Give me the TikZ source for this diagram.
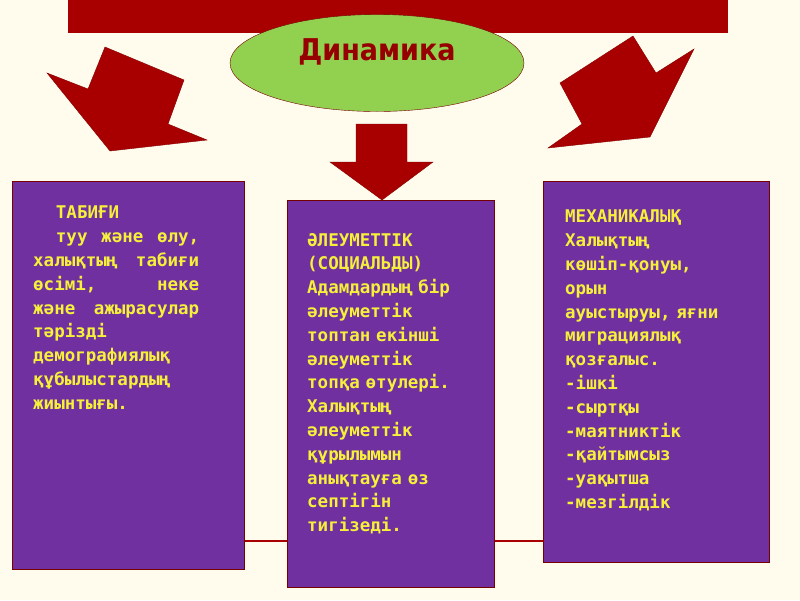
\documentclass[tikz,border=0pt]{standalone}
\usepackage{fontspec}
\usetikzlibrary{shapes.geometric}
\setmainfont{DejaVu Sans Mono}
\newfontfamily\titlefont{DejaVu Sans Condensed}
\definecolor{bgc}{HTML}{FFFCEE}
\definecolor{dred}{HTML}{A80000}
\definecolor{purp}{HTML}{7030A0}
\definecolor{yel}{HTML}{F5F03A}
\definecolor{grn}{HTML}{92D050}
\tikzset{box/.style={fill=purp,draw=dred!70!black,line width=1pt},
 arr/.style={fill=dred,draw=dred!80!black},
 txt/.style={text=yel,font=\bfseries\fontsize{17.5}{23.8}\selectfont,anchor=north west,inner sep=0pt}}
\begin{document}
\begin{tikzpicture}[x=1pt,y=-1pt]
\fill[bgc] (0,0) rectangle (800,600);
\useasboundingbox (0,0) rectangle (800,600);
\fill[dred] (68,0) rectangle (728,33);
\node[draw=dred!70!black,fill=grn,ellipse,minimum width=294pt,minimum height=97pt,inner sep=0pt] (dyn) at (377,63) {};
\node[text=dred!90!black,font=\titlefont\bfseries\fontsize{30}{34}\selectfont] at (377,52) {Динамика};
\draw[arr] (105,47)--(184,80)--(168,124)--(207,140)--(110,151)--(47,73)--(88,89)--cycle;
\draw[arr] (633,36)--(656,73)--(694,49)--(650,137)--(548,148)--(582,124)--(560,83)--cycle;
\draw[arr] (356,124)--(407,124)--(407,162)--(433,162)--(382,200)--(330,162)--(356,162)--cycle;
\node[box,minimum width=232pt,minimum height=388pt,anchor=north west,inner sep=0pt] (l) at (12,181) {};
\node[box,minimum width=207pt,minimum height=387pt,anchor=north west,inner sep=0pt] (m) at (287,200) {};
\node[box,minimum width=226pt,minimum height=381pt,anchor=north west,inner sep=0pt] (r) at (543,181) {};
\coordinate (c1) at (244,541); \coordinate (c2) at (287,541);
\draw[dred,line width=1.2pt] (l.east |- c1) -- (m.west |- c2);
\draw[dred,line width=1.2pt] (m.east |- c1) -- (r.west |- c2);
\node[txt,text width=166pt,align=justify] at (33,206) {\hspace*{1.3em}ТАБИҒИ\par\hspace*{1.3em}туу және өлу, халықтың табиғи өсімі, неке және ажырасулар тәрізді демографиялық құбылыстардың жиынтығы.};
\node[txt,text width=185pt,align=left] at (307,233) {ӘЛЕУМЕТТІК\\(СОЦИАЛЬДЫ)\\Адамдардың бір\\әлеуметтік\\топтан екінші\\әлеуметтік\\топқа өтулері.\\Халықтың\\әлеуметтік\\құрылымын\\анықтауға өз\\септігін\\тигізеді.};
\node[txt,text width=200pt,align=left] at (565,210) {МЕХАНИКАЛЫҚ\\Халықтың\\көшіп-қонуы,\\орын\\ауыстыруы, яғни\\миграциялық\\қозғалыс.\\-ішкі\\-сыртқы\\-маятниктік\\-қайтымсыз\\-уақытша\\-мезгілдік};
\end{tikzpicture}
\end{document}
